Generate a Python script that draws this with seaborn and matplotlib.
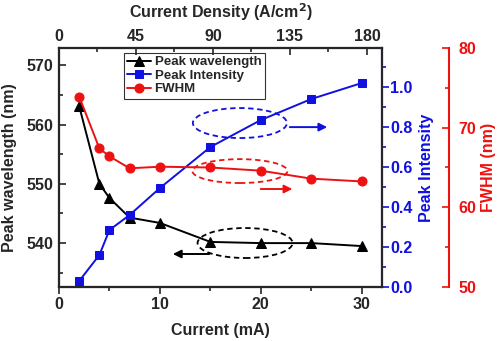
import matplotlib
matplotlib.use("Agg")
import matplotlib.pyplot as plt
import seaborn as sns
import numpy as np
import pandas as pd
from matplotlib.patches import Ellipse
from matplotlib.ticker import MultipleLocator

sns.set_style("ticks")
plt.rcParams['font.family'] = ['Liberation Sans', 'DejaVu Sans']
plt.rcParams['font.weight'] = 'bold'

current = [2, 4, 5, 7, 10, 15, 20, 25, 30]
peak_wavelength = [563.1, 550.0, 547.6, 544.3, 543.4, 540.2, 540.0, 540.0, 539.5]
peak_intensity = [0.03, 0.16, 0.285, 0.36, 0.495, 0.70, 0.835, 0.94, 1.02]
fwhm = [73.9, 67.4, 66.4, 64.9, 65.1, 65.0, 64.6, 63.6, 63.25]
density_ticks = [0, 45, 90, 135, 180]

df = pd.DataFrame({"current": current, "wl": peak_wavelength,
                   "inten": peak_intensity, "fwhm": fwhm})

fig = plt.figure(figsize=(5.0, 3.41), dpi=100)
ax = fig.add_axes([0.118, 0.1584, 0.646, 0.7008])
ax_b = ax.twinx()
ax_r = ax.twinx()
ax_top = ax.twiny()

lw = 1.4
BLUE = "#1010e0"
RED = "#ee1111"
sns.lineplot(data=df, x="current", y="wl", ax=ax, color="black", marker="^",
             markersize=6.5, markeredgecolor="black", linewidth=lw, label="Peak wavelength", legend=False)
sns.lineplot(data=df, x="current", y="inten", ax=ax_b, color=BLUE, marker="s",
             markersize=5.5, markeredgecolor=BLUE, linewidth=lw, label="Peak Intensity", legend=False)
sns.lineplot(data=df, x="current", y="fwhm", ax=ax_r, color=RED, marker="o",
             markersize=6.5, markeredgecolor=RED, linewidth=lw, label="FWHM", legend=False)

ax.set_xlim(0, 32)
ax.set_ylim(532.6, 572.9)
ax_b.set_ylim(0, 1.195)
ax_r.set_ylim(50, 80)
ax_top.set_xlim(0, 188.8)

fs = 11.5
ax.set_xticks([0, 10, 20, 30])
ax.xaxis.set_minor_locator(MultipleLocator(5))
ax.set_yticks([540, 550, 560, 570])
ax.yaxis.set_minor_locator(MultipleLocator(5))
ax_b.set_yticks([0.0, 0.2, 0.4, 0.6, 0.8, 1.0])
ax_b.yaxis.set_minor_locator(MultipleLocator(0.1))
ax_r.set_yticks([50, 60, 70, 80])
ax_r.yaxis.set_minor_locator(MultipleLocator(5))
ax_top.set_xticks(density_ticks)
ax_top.xaxis.set_minor_locator(MultipleLocator(22.5))

ax.tick_params(axis='x', which='both', direction='out', labelsize=fs, width=1.2, pad=2)
ax.tick_params(axis='x', which='major', length=5)
ax.tick_params(axis='x', which='minor', length=3)
ax.tick_params(axis='y', which='both', direction='in', labelsize=fs, width=1.2, pad=4)
ax.tick_params(axis='y', which='major', length=5)
ax.tick_params(axis='y', which='minor', length=3)
ax_top.tick_params(axis='x', which='both', direction='in', labelsize=fs, width=1.2, pad=3)
ax_top.tick_params(axis='x', which='major', length=5)
ax_top.tick_params(axis='x', which='minor', length=3)
ax_b.tick_params(axis='y', which='both', direction='out', labelsize=fs, colors=BLUE, width=1.2, pad=1)
ax_b.tick_params(axis='y', which='major', length=5)
ax_b.tick_params(axis='y', which='minor', length=3)
ax_r.tick_params(axis='y', which='both', direction='in', labelsize=fs, colors=RED, width=1.2, pad=7)
ax_r.tick_params(axis='y', which='major', length=5)
ax_r.tick_params(axis='y', which='minor', length=3)

for a in (ax, ax_b, ax_r, ax_top):
    for lab in a.get_xticklabels() + a.get_yticklabels():
        lab.set_fontweight('bold')

for a in (ax, ax_b, ax_top):
    for s in a.spines.values():
        s.set_linewidth(1.5)
ax_b.spines['right'].set_color(BLUE)
ax_r.spines['right'].set_position(('axes', 1.2074))
ax_r.spines['right'].set_color(RED)
ax_r.spines['right'].set_linewidth(1.5)
for s in ('left', 'top', 'bottom'):
    ax_r.spines[s].set_visible(False)

lfs = 11.5
ax.set_xlabel("Current (mA)", fontsize=lfs, fontweight='bold', va='center', ha='center')
ax.xaxis.set_label_coords(0.5, -0.184)
ax.set_ylabel("Peak wavelength (nm)", fontsize=lfs, fontweight='bold', va='center', ha='center')
ax.yaxis.set_label_coords(-0.152, 0.5)
ax_top.set_xlabel("Current Density (A/cm$^\\mathbf{2}$)", fontsize=lfs, fontweight='bold',
                  va='center', ha='center')
ax_top.xaxis.set_label_coords(0.5, 1.148)
ax_b.set_ylabel("Peak Intensity", fontsize=lfs, fontweight='bold', color=BLUE, va='center', ha='center')
ax_b.yaxis.set_label_coords(1.139, 0.5)
ax_r.set_ylabel("FWHM (nm)", fontsize=lfs, fontweight='bold', color=RED, va='center', ha='center')
ax_r.yaxis.set_label_coords(1.331, 0.5)

handles = []
labels = []
for a in (ax, ax_b, ax_r):
    h, l = a.get_legend_handles_labels()
    handles += h
    labels += l
leg = ax_r.legend(handles, labels, loc='upper left', bbox_to_anchor=(0.2, 0.98),
                  prop={'weight': 'bold', 'size': 9.5}, frameon=True, fancybox=False,
                  handlelength=1.8, handletextpad=0.3, borderpad=0.25, labelspacing=0.1,
                  borderaxespad=0)
leg.get_frame().set_edgecolor('black')
leg.get_frame().set_linewidth(0.8)

# dashed ellipses and arrows (annotations in axes fraction)
ells = [((0.560, 0.686), 0.291, 0.1255, BLUE),
        ((0.560, 0.485), 0.294, 0.100, RED),
        ((0.576, 0.184), 0.294, 0.1255, "black")]
for (c, w, h, col) in ells:
    e = Ellipse(c, w, h, transform=ax_r.transAxes, fill=False, edgecolor=col,
                linestyle=(0, (3, 2)), linewidth=1.3, zorder=5)
    ax_r.add_patch(e)

arrows = [((0.706, 0.669), (0.839, 0.669), BLUE),
          ((0.616, 0.410), (0.731, 0.410), RED),
          ((0.474, 0.138), (0.344, 0.138), "black")]
for (p0, p1, col) in arrows:
    ax_r.annotate("", xy=p1, xytext=p0, xycoords='axes fraction', textcoords='axes fraction',
                  arrowprops=dict(arrowstyle='-|>', color=col, lw=1.4, mutation_scale=12))

fig.savefig("out.png", dpi=100)
